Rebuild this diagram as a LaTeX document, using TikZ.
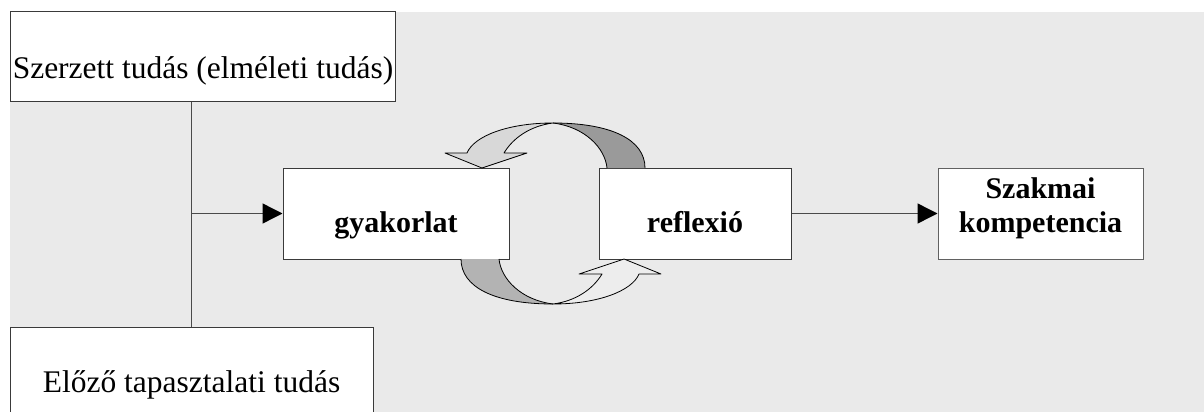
\documentclass[tikz,border=0pt]{standalone}
\usepackage{fontspec}
\setmainfont{Liberation Serif}
\usetikzlibrary{arrows.meta}
\definecolor{panel}{HTML}{EAEAEA}
\definecolor{frame}{HTML}{3A3A3A}
\definecolor{wire}{HTML}{4A4A4A}
\definecolor{darkband}{HTML}{9A9A9A}
\definecolor{lightband}{HTML}{D8D8D8}
\definecolor{darkbandb}{HTML}{B3B3B3}
\definecolor{lightbandb}{HTML}{EDEDED}
\tikzset{
  box/.style={draw=frame, fill=white, line width=1pt, inner sep=0pt},
  lbl/.style={anchor=base, inner sep=0pt, font=\fontsize{31.5}{34}\selectfont},
  blbl/.style={anchor=base, inner sep=0pt, font=\fontsize{30}{34}\selectfont\bfseries},
  feed/.style={draw=wire, line width=1.4pt, -{Triangle[length=20pt,width=20pt,color=black]}},
  band/.style={draw=black, line width=0.8pt, line join=round},
}
\begin{document}
\begin{tikzpicture}[x=1pt,y=-1pt]
\useasboundingbox (0,0) rectangle (1204,412);
\clip (0,0) rectangle (1204,412);
% grey panel
\fill[panel] (10,12) rectangle (1204,412);

% knowledge sources
\node[box, minimum width=385pt, minimum height=89pt] (src1) at (202.5,56.5) {};
\node[lbl] (src1t) at (203,78) {Szerzett tudás (elméleti tudás)};
\node[box, minimum width=363pt, minimum height=100pt] (src2) at (191.5,377) {};
\node[lbl] (src2t) at (191.5,392) {Előző tapasztalati tudás};

% main boxes
\node[box, minimum width=226pt, minimum height=91pt] (gyak) at (396,213.5) {};
\node[blbl] (gyakt) at (396,232) {gyakorlat};
\node[box, minimum width=192pt, minimum height=91pt] (refl) at (695,213.5) {};
\node[blbl] (reflt) at (695,232) {reflexió};
\node[box, draw=frame!80, minimum width=205pt, minimum height=91pt] (komp) at (1040.5,213.5) {};
\node[blbl] (kompt1) at (1040.5,198) {Szakmai};
\node[blbl] (kompt2) at (1040.5,232) {kompetencia};

% joining line and feeds
\coordinate (j) at (191.5,213.5);
\draw[draw=wire, line width=1.4pt] (src1.south -| j) -- (src2.north -| j);
\draw[feed] (j) -- (gyak.west);
\draw[feed] (refl.east) -- (komp.west);

% curved arrow: reflexio back to gyakorlat
\fill[darkband] (553,123) .. controls (612,123) and (645,140) .. (645,168)
  -- (607,168) .. controls (605,148) and (585,127) .. (553,123) -- cycle;
\draw[band] (553,123) .. controls (612,123) and (645,140) .. (645,168);
\draw[band] (607,168) .. controls (605,148) and (585,127) .. (553,123);
\filldraw[band, fill=lightband] (553,123) .. controls (508,123) and (474,136) .. (467,153)
  -- (445,153) -- (482,168) -- (527,153) -- (504,153)
  .. controls (513,138) and (530,126) .. (553,123) -- cycle;

% curved arrow: gyakorlat forward to reflexio
\begin{scope}[rotate around={180:(553,213.5)}]
\fill[darkbandb] (553,123) .. controls (612,123) and (645,140) .. (645,168)
  -- (607,168) .. controls (605,148) and (585,127) .. (553,123) -- cycle;
\draw[band] (553,123) .. controls (612,123) and (645,140) .. (645,168);
\draw[band] (607,168) .. controls (605,148) and (585,127) .. (553,123);
\filldraw[band, fill=lightbandb] (553,123) .. controls (508,123) and (474,136) .. (467,153)
  -- (445,153) -- (482,168) -- (527,153) -- (504,153)
  .. controls (513,138) and (530,126) .. (553,123) -- cycle;
\end{scope}
\end{tikzpicture}
\end{document}
